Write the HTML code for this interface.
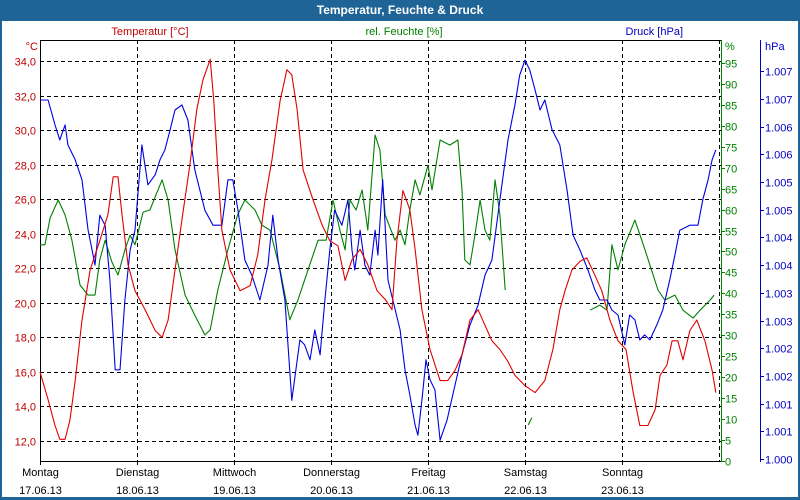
<!DOCTYPE html>
<html><head><meta charset="utf-8"><style>
body{margin:0;background:#fff}
svg{display:block;font-family:"Liberation Sans",sans-serif}
</style></head><body>
<svg id="c" width="800" height="500"></svg>
<script>
const days=["Montag","Dienstag","Mittwoch","Donnerstag","Freitag","Samstag","Sonntag"];
const dates=["17.06.13","18.06.13","19.06.13","20.06.13","21.06.13","22.06.13","23.06.13"];
const tempTicks=[12,14,16,18,20,22,24,26,28,30,32,34];
const humTicks=[0,5,10,15,20,25,30,35,40,45,50,55,60,65,70,75,80,85,90,95];
const presTicks=[1000,1000.5,1001,1001.5,1002,1002.5,1003,1003.5,1004,1004.5,1005,1005.5,1006,1006.5,1007];
const presLabels=["1.000","1.001","1.001","1.002","1.002","1.003","1.003","1.004","1.004","1.005","1.005","1.006","1.006","1.007","1.007"];
const tempHours=[0,2,3.7,4.9,6.2,7.4,8.7,10.4,12.4,14.8,16.8,18.1,19.3,20.3,21.8,23.5,26,28.5,30.2,31.7,33.4,35.1,37.1,38.8,40.3,42.1,43,44,45,47,49.5,52,53.9,55.7,57.4,59.4,61.1,62.3,63.6,65.1,67.5,69.8,71.7,73.7,75.5,77.2,79.2,81.1,83.4,85.4,87.1,88.3,89.8,91.5,92.8,94.5,96.5,99,100.9,102.7,104.4,106.4,108.4,110.1,111.8,113.8,115.8,117.5,120,122.5,124.9,126.9,128.6,129.9,131.6,133.6,135.3,137.3,139,141,143,145,146.7,148.4,150.4,152.2,153.4,155.1,156.4,157.8,159.1,160.8,162.5,164.5,166.3,167.2];
const tempValues=[16.0,14.4,12.9,12.1,12.1,13.2,15.5,19.0,21.9,23.6,25.1,27.3,27.3,25.1,22.2,20.7,19.6,18.4,18.0,19.0,21.9,24.8,28.0,31.2,32.9,34.1,31.7,27.7,24.2,21.9,20.7,21.0,22.8,26.0,28.3,31.7,33.5,33.2,31.2,27.7,26.0,24.5,23.6,23.3,21.3,22.5,23.1,22.2,20.7,20.2,19.6,23.6,26.5,25.4,23.1,19.6,17.3,15.5,15.5,16.1,17.0,19.0,19.6,18.7,17.8,17.3,16.6,15.8,15.2,14.8,15.5,17.3,19.6,20.7,21.9,22.4,22.6,21.6,20.7,19.0,17.8,17.3,14.9,12.9,12.9,13.8,15.8,16.4,17.8,17.8,16.7,18.4,19.0,17.8,16.1,14.8];
const humHours=[0,1.2,2.5,4.5,6.2,7.9,9.9,11.9,13.6,14.8,16.1,17.8,19.3,21.0,22.3,23.5,25.5,27.2,29.2,30.2,31.7,33.4,35.9,38.3,40.8,42.1,44.0,46.5,48.9,50.7,53.2,54.9,56.9,59.4,61.8,63.8,66.3,68.8,70.8,72.5,74.2,75.5,76.7,78.2,79.7,81.1,82.9,84.1,85.4,87.8,89.1,90.3,91.5,92.8,94.0,96.0,97.0,99.0,101.4,103.4,104.4,105.1,106.4,107.6,108.9,110.1,111.3,112.6,113.8,115.1,118,120.8,121.7,130,136.1,138.5,140.3,141.5,143.0,144.7,147.2,148.9,150.9,152.9,154.6,157.1,159.1,161.6,163.3,165.8,166.8];
const humValues=[51.6,51.6,58.0,62.3,58.7,52.7,42.0,39.6,39.6,48.0,52.7,47.5,44.4,50.4,53.9,51.6,59.4,59.9,64.7,67.1,62.3,50.4,39.6,34.8,30.1,31.3,40.8,50.4,58.7,62.3,59.9,56.3,55.1,45.6,33.7,38.4,45.6,52.7,52.7,62.3,55.1,50.4,62.3,59.9,64.7,55.1,77.8,74.2,58.7,52.7,55.1,51.6,59.9,67.1,63.5,70.6,64.7,76.6,75.4,76.6,64.7,48.0,46.8,53.9,62.3,55.1,52.7,67.1,58.7,40.8,null,8.6,10.3,null,36.0,37.2,36.0,51.6,45.6,51.6,57.5,52.7,46.8,40.8,38.4,39.6,36.0,34.1,36.0,38.4,39.6];
const presHours=[0,2.0,3.7,4.9,6.2,6.9,8.7,10.4,11.9,12.9,13.6,14.8,16.1,17.3,18.6,19.8,21.0,22.3,23.5,25.2,26.7,28.5,29.7,30.9,32.2,33.4,35.1,36.6,38.3,40.8,42.8,45.0,46.5,47.7,49.0,50.7,52.4,54.4,56.4,57.6,58.9,60.6,62.3,64.3,65.5,66.8,68.0,69.3,70.5,71.7,72.9,74.7,76.2,77.2,77.9,79.2,80.4,81.6,82.9,83.6,84.8,86.1,87.3,89.1,90.3,91.5,92.8,93.5,94.5,95.5,96.5,97.7,99.0,100.7,102.7,104.4,106.4,108.4,110.1,111.8,113.8,115.8,117.5,118.7,120.0,121.2,122.5,123.7,124.9,126.7,128.6,130.4,131.9,133.6,135.6,137.3,138.5,140.3,141.5,143.0,144.7,145.9,147.2,148.4,149.6,150.9,152.6,154.1,155.8,157.1,158.3,160.8,162.8,164.0,165.3,166.3,167.2];
const presValues=[1006.48,1006.48,1006.03,1005.76,1006.03,1005.67,1005.40,1005.04,1004.13,1003.77,1003.50,1004.40,1004.22,1003.23,1001.61,1001.61,1002.87,1003.77,1004.13,1005.67,1004.95,1005.13,1005.40,1005.58,1005.94,1006.30,1006.39,1006.12,1005.22,1004.49,1004.22,1004.22,1005.04,1005.04,1004.49,1003.59,1003.32,1002.87,1003.50,1004.40,1003.59,1002.87,1001.06,1002.15,1002.06,1001.79,1002.33,1001.88,1002.87,1003.77,1004.49,1004.22,1004.68,1003.77,1003.41,1004.13,1003.50,1003.32,1004.13,1003.68,1005.04,1003.23,1002.87,1002.33,1001.61,1001.16,1000.61,1000.43,1001.06,1001.79,1001.43,1001.25,1000.34,1000.70,1001.34,1001.88,1002.42,1002.78,1003.32,1003.59,1004.68,1005.76,1006.39,1006.93,1007.20,1007.02,1006.66,1006.30,1006.48,1005.94,1005.67,1004.86,1004.04,1003.77,1003.41,1003.05,1002.87,1002.87,1002.69,1002.60,1002.06,1002.60,1002.51,1002.15,1002.24,1002.15,1002.42,1002.69,1003.23,1003.68,1004.13,1004.22,1004.22,1004.68,1005.04,1005.40,1005.58];

const NS="http://www.w3.org/2000/svg";
const svg=document.getElementById('c');
const L=40,R=721,T=40,B=461;
const xH=h=>L+h*97/24;
const yT=v=>441-(v-12)*17.27;
const yHm=v=>461-v*4.19;
const yP=v=>459-(v-1000)*55.4;
function mk(tag,attrs,parent){const e=document.createElementNS(NS,tag);for(const k in attrs)e.setAttribute(k,attrs[k]);(parent||svg).appendChild(e);return e;}
function txt(x,y,s,fill,anchor,size,weight){const e=mk('text',{x:x,y:y,fill:fill,'text-anchor':anchor||'start','font-size':size||11,'font-weight':weight||'normal'});e.textContent=s;return e;}

let e=mk('rect',{x:0,y:0,width:800,height:500,fill:'#1e6496'});


e=mk('rect',{x:2,y:21,width:796,height:476,fill:'#fff'});


e=txt(400,14,'Temperatur, Feuchte & Druck','#fff','middle',12,'bold');


e=txt(150,35,'Temperatur [°C]','#c00000','middle',11);


e=txt(404,35,'rel. Feuchte [%]','#008000','middle',11);


e=txt(683,35,'Druck [hPa]','#0000c0','end',11);



// grid
tempTicks.forEach(v=>{const y=Math.round(yT(v))+0.5;
 const g=mk('line',{x1:L,x2:R,y1:y,y2:y,stroke:'#000','stroke-dasharray':'4,3'});
 
 
 const t=txt(36,y+4,v.toFixed(1).replace('.',','),'#c00000','end',11);
 
 
});
days.forEach((d,i)=>{const x=Math.round(xH(24*i))+0.5;
 if(i>0){const g=mk('line',{x1:x,x2:x,y1:T,y2:B,stroke:'#000','stroke-dasharray':'4,3'});
 
 }
 mk('line',{x1:x,x2:x,y1:B,y2:B+4,stroke:'#000'});
 const a=txt(x,476,d,'#000','middle',11);
 
 
 const b=txt(x,494,dates[i],'#000','middle',11);
 
 
});
{const x=Math.round(xH(168))+0.5;const g=mk('line',{x1:x,x2:x,y1:T,y2:B,stroke:'#000','stroke-dasharray':'4,3'});

}

// axes
e=mk('path',{d:`M${L+0.5},${T}V${B+0.5}H${R}M${L},${T+0.5}H${R}`,stroke:'#000',fill:'none'});


e=txt(38,50,'°C','#c00000','end',11);


e=mk('line',{x1:R+0.5,x2:R+0.5,y1:T,y2:B+1,stroke:'#008000'});


humTicks.forEach(v=>{const y=Math.round(yHm(v))+0.5;
 mk('line',{x1:R,x2:R+4,y1:y,y2:y,stroke:'#008000'});
 const t=txt(725,y+4,String(v),'#008000','start',11);
 
 
});
e=txt(725,50,'%','#008000','start',11);


e=mk('line',{x1:760.5,x2:760.5,y1:T,y2:B+1,stroke:'#0000c0'});


presTicks.forEach((v,i)=>{const y=Math.round(yP(v))+0.5;
 mk('line',{x1:760,x2:764,y1:y,y2:y,stroke:'#0000c0'});
 const t=txt(765,y+4,presLabels[i],'#0000c0','start',11);
 
 
});
e=txt(765,50,'hPa','#0000c0','start',11);



function series(hours,vals,yf,color,name){
 let d='',pen=false;
 const n=Math.min(hours.length,vals.length);
 for(let i=0;i<n;i++){
  if(vals[i]===null){pen=false;continue;}
  d+=(pen?'L':'M')+xH(hours[i]).toFixed(1)+','+yf(vals[i]).toFixed(1);pen=true;
 }
 const p=mk('path',{d:d,stroke:color,fill:'none','stroke-width':1.1,'stroke-linejoin':'round'});
 
 
}
series(humHours,humValues,yHm,'#008000','humidity-line');
series(presHours,presValues,yP,'#0000e0','pressure-line');
series(tempHours,tempValues,yT,'#e00000','temperature-line');
</script>
</body></html>
